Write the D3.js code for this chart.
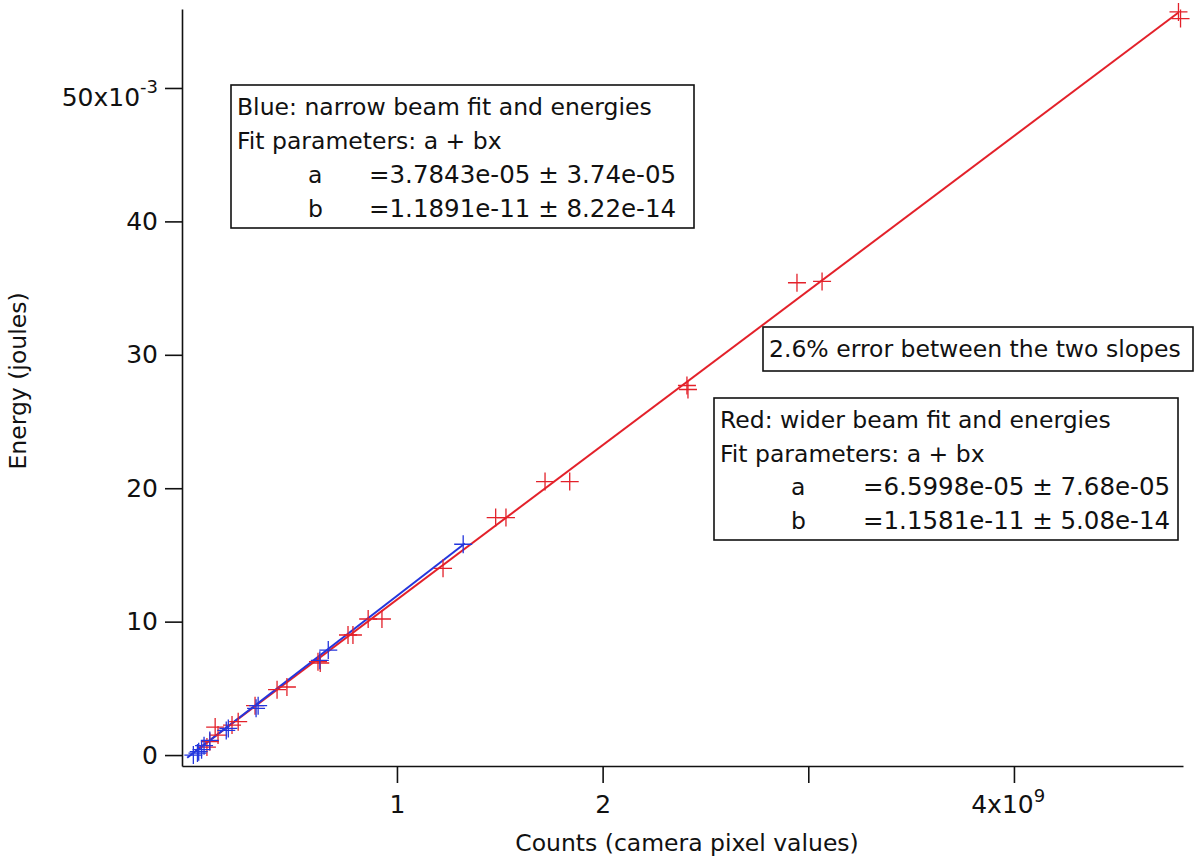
<!DOCTYPE html>
<html>
<head>
<meta charset="utf-8">
<script src="https://cdn.jsdelivr.net/npm/d3@7"></script>
<style>
  body { margin: 0; background: #fff; }
  text { font-family: "DejaVu Sans", sans-serif; fill: #111; }
</style>
</head>
<body>
<div id="graph-area"></div>
<script>
// counts (camera pixel values) and energies (joules)
var blueCounts = [0.010e9, 0.030e9, 0.036e9, 0.050e9, 0.062e9, 0.090e9, 0.170e9, 0.180e9, 0.315e9, 0.325e9, 0.625e9, 0.666e9, 1.322e9];
var blueEnergy = [0.00e-3, 0.15e-3, 0.25e-3, 0.40e-3, 0.70e-3, 1.10e-3, 1.85e-3, 2.00e-3, 3.50e-3, 3.70e-3, 7.10e-3, 7.87e-3, 15.8e-3];

var redCounts = [0.076e9, 0.090e9, 0.116e9, 0.130e9, 0.198e9, 0.228e9, 0.310e9, 0.417e9, 0.465e9, 0.616e9, 0.627e9,
                 0.762e9, 0.786e9, 0.860e9, 0.927e9, 1.224e9, 1.480e9, 1.530e9, 1.720e9, 1.840e9, 2.410e9, 2.415e9,
                 2.945e9, 3.067e9, 4.800e9, 4.810e9];
var redEnergy = [0.60e-3, 1.00e-3, 2.10e-3, 1.50e-3, 2.25e-3, 2.50e-3, 3.70e-3, 4.90e-3, 5.10e-3, 7.00e-3, 6.90e-3,
                 9.00e-3, 9.00e-3, 10.2e-3, 10.2e-3, 14.0e-3, 17.8e-3, 17.8e-3, 20.5e-3, 20.5e-3, 27.7e-3, 27.4e-3,
                 35.4e-3, 35.5e-3, 55.7e-3, 55.2e-3];

// fit results  a + b*x, and the x span each fit line is drawn over
var blueFit = {a: 3.7843e-05, b: 1.1891e-11};
var redFit  = {a: 6.5998e-05, b: 1.1581e-11};
var blueFitSpan = [-0.02e9, 1.33e9];
var redFitSpan  = [0.02e9, 4.80e9];

// axes
var xDomain = [-0.0452e9, 4.822e9];
var yDomain = [-0.82e-3, 55.92e-3];
var xTicks = [1e9, 2e9, 3e9, 4e9];
var xTickLabels = ["1", "2", "", "4x10"];
var yTicks = [0, 0.01, 0.02, 0.03, 0.04, 0.05];
var yTickLabels = ["0", "10", "20", "30", "40", "50x10"];

var blueBoxLines = ["Blue: narrow beam fit and energies", "Fit parameters: a + bx"];
var blueParams = [["a", "=3.7843e-05 \u00b1 3.74e-05"], ["b", "=1.1891e-11 \u00b1 8.22e-14"]];
var redBoxLines = ["Red: wider beam fit and energies", "Fit parameters: a + bx"];
var redParams = [["a", "=6.5998e-05 \u00b1 7.68e-05"], ["b", "=1.1581e-11 \u00b1 5.08e-14"]];
var errorNote = "2.6% error between the two slopes";

var width = 1194, height = 859;
var red = "#e3212a", blue = "#2436dd";
var fs = 23.5;

var svg = d3.select('#graph-area')
            .append('svg')
            .attr('width', width)
            .attr('height', height);

var x = d3.scaleLinear().domain(xDomain).range([182, 1183]);
var y = d3.scaleLinear().domain(yDomain).range([766, 9]);

//x axis
var xAxis = svg.append('g')
  .attr('transform', 'translate(0,766)')
  .call(d3.axisBottom(x).tickValues(xTicks).tickSizeInner(17).tickSizeOuter(0).tickPadding(12)
        .tickFormat(function(d, i){ return xTickLabels[i]; }));

//y axis
var yAxis = svg.append('g')
  .attr('transform', 'translate(182,0)')
  .call(d3.axisLeft(y).tickValues(yTicks).tickSizeInner(17).tickSizeOuter(0).tickPadding(7)
        .tickFormat(function(d, i){ return yTickLabels[i]; }));

[xAxis, yAxis].forEach(function(ax){
  ax.selectAll('path.domain').attr('stroke', '#111').attr('stroke-width', 1.6);
  ax.selectAll('.tick line').attr('stroke', '#111').attr('stroke-width', 1.6);
  ax.selectAll('.tick text').attr('font-size', 25).attr('font-family', '"DejaVu Sans", sans-serif').attr('fill', '#111');
});

// exponents on the last labels
xAxis.selectAll('.tick text').filter(function(d){ return d === 4e9; })
  .attr('dx', '-0.25em')
  .append('tspan').attr('dy', '-0.6em').attr('font-size', 18).text('9');
yAxis.selectAll('.tick text').filter(function(d){ return d === 0.05; })
  .attr('dy', '0.72em')
  .call(function(t){
    t.append('tspan').attr('dy', '-0.75em').attr('font-size', 18).text('-3');
  });

//fit lines
function fitLine(fit, span){
  return span.map(function(v){ return [x(v), y(fit.a + fit.b * v)]; });
}
svg.append('path')
  .attr('d', d3.line()(fitLine(redFit, redFitSpan)))
  .attr('stroke', red).attr('stroke-width', 2).attr('fill', 'none');
svg.append('path')
  .attr('d', d3.line()(fitLine(blueFit, blueFitSpan)))
  .attr('stroke', blue).attr('stroke-width', 2).attr('fill', 'none');

//markers
var plus = "M-9,0L9,0M0,-9L0,9";
function drawMarkers(xs, ys, color){
  svg.append('g').selectAll('path')
    .data(xs)
    .enter().append('path')
    .attr('d', plus)
    .attr('transform', function(d, i){ return 'translate(' + x(d) + ',' + y(ys[i]) + ')'; })
    .attr('stroke', color).attr('stroke-width', 1.3).attr('fill', 'none');
}
drawMarkers(redCounts, redEnergy, red);
drawMarkers(blueCounts, blueEnergy, blue);

//annotation boxes
function textBox(x0, y0, w, h){
  return svg.append('rect').attr('x', x0).attr('y', y0).attr('width', w).attr('height', h)
    .attr('fill', '#fff').attr('stroke', '#111').attr('stroke-width', 1.6);
}
function paramBox(x0, y0, w, h, lines, params, base, step, eqX){
  textBox(x0, y0, w, h);
  lines.forEach(function(s, i){
    svg.append('text').attr('x', x0 + 6).attr('y', base + i * step).attr('font-size', fs).text(s);
  });
  params.forEach(function(p, i){
    var yy = base + (i + 2) * step;
    svg.append('text').attr('x', x0 + 77).attr('y', yy).attr('font-size', fs).text(p[0]);
    svg.append('text').attr('x', eqX).attr('y', yy).attr('font-size', 24.5).text(p[1]);
  });
}
paramBox(231, 85, 463, 143, blueBoxLines, blueParams, 115, 34, 369);
paramBox(714, 398, 464, 142, redBoxLines, redParams, 428, 33.5, 863);

textBox(763, 327, 430, 44);
svg.append('text').attr('x', 769).attr('y', 357).attr('font-size', fs).text(errorNote);

//axis titles
svg.append('text').attr('x', 687).attr('y', 851).attr('text-anchor', 'middle')
  .attr('font-size', fs).text('Counts (camera pixel values)');
svg.append('text').attr('transform', 'translate(26,381) rotate(-90)').attr('text-anchor', 'middle')
  .attr('font-size', fs).text('Energy (joules)');
</script>
</body>
</html>
